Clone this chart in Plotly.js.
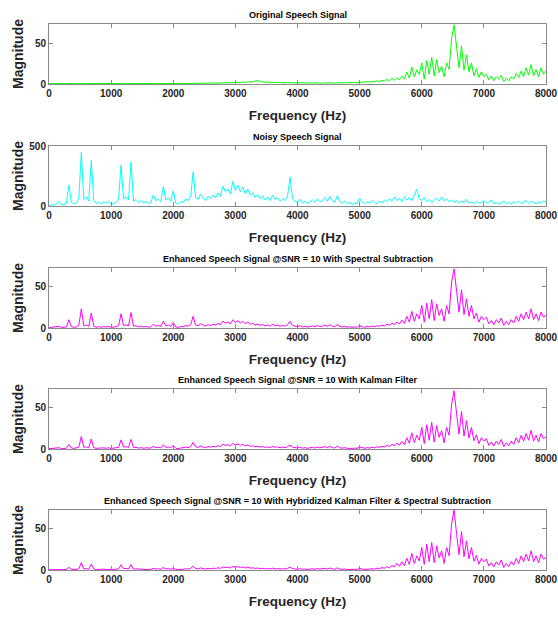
<!DOCTYPE html>
<html>
<head>
<meta charset="utf-8">
<script src="https://cdn.plot.ly/plotly-3.0.1.min.js"></script>
<style>html,body{margin:0;padding:0;background:#fff;}#chart{width:558px;height:619px;}</style>
</head>
<body>
<div id="chart"></div>
<script>
// Frequency bins (Hz)
const freqHz = [
0,40,80,120,160,200,240,280,320,360,400,440,480,520,560,600,640,680,720,760,800,840,880,920,960,
1000,1040,1080,1120,1160,1200,1240,1280,1320,1360,1400,1440,1480,1520,1560,1600,1640,1680,1720,1760,1800,1840,1880,1920,1960,
2000,2040,2080,2120,2160,2200,2240,2280,2320,2360,2400,2440,2480,2520,2560,2600,2640,2680,2720,2760,2800,2840,2880,2920,2960,
3000,3040,3080,3120,3160,3200,3240,3280,3320,3360,3400,3440,3480,3520,3560,3600,3640,3680,3720,3760,3800,3840,3880,3920,3960,
4000,4040,4080,4120,4160,4200,4240,4280,4320,4360,4400,4440,4480,4520,4560,4600,4640,4680,4720,4760,4800,4840,4880,4920,4960,
5000,5040,5080,5120,5160,5200,5240,5280,5320,5360,5400,5440,5480,5520,5560,5600,5640,5680,5720,5760,5800,5840,5880,5920,5960,
6000,6040,6080,6120,6160,6200,6240,6280,6320,6360,6400,6440,6480,6520,6560,6600,6640,6680,6720,6760,6800,6840,6880,6920,6960,
7000,7040,7080,7120,7160,7200,7240,7280,7320,7360,7400,7440,7480,7520,7560,7600,7640,7680,7720,7760,7800,7840,7880,7920,7960,
8000];

const originalMag = [
0.5,0.4,0.6,0.5,0.3,0.6,0.4,0.5,0.7,0.4,0.5,0.6,0.3,0.5,0.4,0.6,0.5,0.4,0.7,0.5,0.3,0.5,0.6,0.4,0.5,
0.4,0.6,0.5,0.3,0.5,0.7,0.4,0.5,0.6,0.4,0.5,0.3,0.6,0.5,0.4,0.7,0.5,0.6,0.4,0.5,0.6,0.5,0.4,0.7,0.5,
0.6,0.5,0.7,0.5,0.6,0.8,0.5,0.7,0.6,0.8,0.6,0.7,0.9,0.7,0.8,1.0,1.2,0.9,1.3,1.1,1.5,1.2,1.8,1.4,2.0,
1.6,2.2,1.8,2.5,2.0,2.8,2.2,3.0,3.8,4.2,3.1,2.4,2.0,2.6,1.8,2.2,1.6,2.0,1.5,1.8,1.4,1.9,1.6,2.1,1.5,
1.2,1.6,1.3,1.8,1.2,1.5,1.1,1.7,1.3,1.4,1.0,1.6,1.2,1.8,1.3,1.1,1.5,1.2,1.7,1.4,1.6,1.9,1.3,2.0,1.5,
1.8,2.4,2.0,2.9,2.3,3.2,2.6,3.8,3.0,4.5,3.4,5.6,4.0,6.8,4.6,7.5,5.2,9.8,6.0,14.5,7.4,20.8,8.6,17.5,11.8,
26,6,29,12,33,10,30,14,22,9,26,18,56,73,44,20,47,17,36,15,26,10,19,8,15,
9,12,5,10,4,9,6,11,3,7,4,9,6,13,8,16,9,20,11,24,10,18,9,20,12,
16];

const noisyMag = [
5,10,8,15,38,12,10,20,176,30,18,25,60,446,55,75,40,380,45,22,30,18,35,25,40,
15,20,30,55,340,60,75,50,368,40,55,30,45,25,38,20,30,92,45,60,35,162,50,70,40,
128,25,15,35,30,60,45,80,285,70,55,100,65,45,80,60,90,70,110,80,165,120,140,100,205,
130,175,120,160,100,140,90,110,70,95,60,85,50,75,45,90,55,70,40,60,45,80,240,60,40,
30,55,25,40,20,35,50,30,60,35,45,70,40,80,45,30,85,35,25,40,20,30,15,25,20,
65,30,20,35,25,45,30,20,40,25,50,35,60,40,75,45,65,35,80,50,70,45,90,140,60,
45,70,35,55,30,50,65,40,75,45,60,35,50,30,45,25,40,30,55,25,35,20,40,25,30,
45,25,35,50,20,30,15,25,40,20,30,15,35,25,40,20,35,45,25,40,30,20,35,25,40,
30];

const spectralSubMag = [
0.5,0.8,0.5,1.0,2.0,0.8,0.6,1.2,10,1.5,0.9,1.3,3.0,23,2.5,3.5,2.0,18,2.2,1.0,1.5,0.9,1.8,1.2,2.0,
0.8,1.0,1.5,2.8,17,3.0,3.8,2.5,18.5,2.0,2.8,1.5,2.2,1.2,1.9,1.0,1.5,4.6,2.2,3.0,1.8,8.0,2.5,3.5,2.0,
6.5,1.2,0.8,1.8,1.5,3.0,2.2,4.0,14,3.5,2.8,5.0,3.2,2.2,4.0,3.0,4.5,3.5,5.5,4.0,8.2,6.0,7.0,5.0,10,
6.5,8.8,6.0,8.0,5.0,7.0,4.5,5.5,3.5,4.8,3.0,4.2,2.5,3.8,2.2,4.5,2.8,3.5,2.0,3.0,2.2,4.0,8.0,3.0,2.0,
1.5,2.8,1.2,2.0,1.0,1.8,2.5,1.5,3.0,1.8,2.2,3.5,2.0,4.0,2.2,1.5,4.2,1.8,1.2,2.0,1.0,1.5,0.8,1.2,1.0,
3.2,1.5,1.0,1.8,1.2,2.2,1.5,2.8,2.0,3.5,2.5,4.5,3.2,5.8,4.0,7.2,4.8,9.5,5.5,14,7.0,20,8.0,17,11,
27,7,30,11,34,9,29,15,23,8,27,17,55,71,45,19,46,16,35,14,27,11,18,7,14,
10,13,5,9,4,10,6,12,3,8,4,10,6,14,8,17,10,19,11,23,10,17,9,19,13,
15];

const kalmanMag = [
0.4,0.6,0.4,0.8,1.5,0.6,0.5,0.9,5.5,1.2,0.7,1.0,2.2,15,2.0,2.6,1.5,12,1.6,0.8,1.2,0.7,1.4,0.9,1.5,
0.6,0.8,1.2,2.0,11,2.2,2.8,1.8,11.5,1.5,2.0,1.1,1.6,0.9,1.4,0.8,1.1,3.2,1.6,2.2,1.3,5.0,1.8,2.5,1.5,
4.2,0.9,0.6,1.3,1.1,2.2,1.6,2.9,8.0,2.5,2.0,3.5,2.3,1.6,2.9,2.2,3.2,2.5,4.0,2.9,5.8,4.3,5.0,3.6,6.8,
4.6,6.2,4.3,5.6,3.6,5.0,3.2,3.9,2.5,3.4,2.2,3.0,1.8,2.7,1.6,3.2,2.0,2.5,1.5,2.2,1.6,2.9,4.5,2.2,1.5,
1.2,2.2,1.0,1.6,0.8,1.4,2.0,1.2,2.4,1.4,1.8,2.8,1.6,3.2,1.8,1.2,3.4,1.4,1.0,1.6,0.8,1.2,0.7,1.0,0.8,
2.5,1.3,0.9,1.6,1.1,2.0,1.4,2.6,1.9,3.3,2.4,4.3,3.0,5.6,3.9,7.0,4.6,9.2,5.3,13.5,6.8,19.5,7.8,16.5,10.5,
26,6.5,29,10.5,32,8.5,28,14,22,7.5,26,16.5,53,70,43,18,45,15.5,34,13,26,10,17,6.5,13.5,
9.5,12.5,4.5,8.5,3.5,9.5,5.5,11.5,2.8,7.5,3.8,9.5,5.5,13.5,7.5,16.5,9.5,18.5,10.5,22.5,9.5,16.5,8.5,18.5,12.5,
14.5];

const hybridMag = [
0.3,0.5,0.3,0.6,1.0,0.5,0.4,0.7,3.2,0.9,0.5,0.8,1.4,8.8,1.3,1.7,1.0,7.0,1.1,0.6,0.9,0.5,1.0,0.7,1.0,
0.5,0.6,0.9,1.4,6.2,1.5,1.9,1.2,6.5,1.1,1.4,0.8,1.1,0.6,1.0,0.6,0.8,2.0,1.1,1.5,0.9,3.0,1.2,1.7,1.0,
2.5,0.6,0.5,0.9,0.8,1.5,1.1,2.0,4.5,1.7,1.4,2.4,1.6,1.1,2.0,1.5,2.2,1.7,2.7,2.0,3.8,2.9,3.4,2.5,4.4,
3.1,4.0,2.9,3.7,2.4,3.3,2.2,2.7,1.8,2.4,1.6,2.1,1.3,1.9,1.2,2.2,1.4,1.8,1.1,1.6,1.2,2.0,3.2,1.6,1.1,
0.9,1.6,0.8,1.2,0.6,1.0,1.5,0.9,1.8,1.1,1.4,2.1,1.2,2.4,1.4,0.9,2.6,1.1,0.8,1.2,0.6,0.9,0.5,0.8,0.6,
2.0,1.0,0.7,1.3,0.9,1.6,1.1,2.2,1.6,2.9,2.1,4.0,2.7,5.4,3.7,8.0,4.4,9.8,5.1,14,6.6,20,7.6,17,10.8,
27,6.8,31,10,33,8.8,29,14.5,23,7.8,27,17,55,72,44,18.5,46,16,35,13.5,27,10.5,17.5,7,14,
9.8,13,4.8,8.8,3.8,9.8,5.8,12,3,7.8,4,10,5.8,14,7.8,17,9.8,19,10.8,23,9.8,17,8.8,19,13,
15];

const panelTitles = [
  'Original Speech Signal',
  'Noisy Speech Signal',
  'Enhanced Speech Signal @SNR = 10 With Spectral Subtraction',
  'Enhanced Speech Signal @SNR = 10 With Kalman Filter',
  'Enhanced Speech Signal @SNR = 10 With Hybridized Kalman Filter & Spectral Subtraction'
];
const panelSeries = [originalMag, noisyMag, spectralSubMag, kalmanMag, hybridMag];
const panelColors = ['#00ff00', '#00ffff', '#ff00ff', '#ff00ff', '#ff00ff'];
const panelYMax = [74, 500, 72, 72, 72];
const panelYTicks = [[0, 50], [0, 500], [0, 50], [0, 50], [0, 50]];
const xTickVals = [0,1000,2000,3000,4000,5000,6000,7000,8000];
const xTickText = ['0','1000','2000','3000','4000','5000','6000','7000','8000'];

const W = 558, H = 619;
const plotLeft = 49, plotRight = 546;
const panelTopPx = [24, 146, 268, 389, 510];
const panelHeightPx = 60;

const sans = '"Liberation Sans", Arial, sans-serif';

const traces = [];
const layout = {
  width: W, height: H,
  margin: {l: 0, r: 0, t: 0, b: 0},
  paper_bgcolor: '#ffffff',
  plot_bgcolor: '#ffffff',
  showlegend: false,
  annotations: []
};

panelSeries.forEach((vals, i) => {
  const n = i + 1;
  const sfx = (n === 1 ? '' : String(n));
  traces.push({
    x: freqHz, y: vals, type: 'scatter', mode: 'lines',
    line: {color: panelColors[i], width: 1},
    xaxis: 'x' + sfx, yaxis: 'y' + sfx,
    hoverinfo: 'skip'
  });
  const top = panelTopPx[i], bot = top + panelHeightPx;
  const axCommon = {
    showline: true, linecolor: '#8a8a8a', linewidth: 1, mirror: 'ticks',
    ticks: 'inside', ticklen: 4, tickcolor: '#8a8a8a', tickwidth: 1,
    showgrid: false, zeroline: false, fixedrange: true,
    ticklabeloverflow: 'allow',
    tickfont: {family: sans, size: 10, color: '#262626', weight: 'bold'}
  };
  layout['xaxis' + sfx] = Object.assign({}, axCommon, {
    domain: [plotLeft / W, plotRight / W],
    anchor: 'y' + sfx,
    range: [0, 8000], tickmode: 'array', tickvals: xTickVals, ticktext: xTickText,
    title: {text: 'Frequency (Hz)', standoff: 12,
            font: {family: sans, size: 13.5, color: '#262626', weight: 'bold'}}
  });
  layout['yaxis' + sfx] = Object.assign({}, axCommon, {
    domain: [1 - bot / H, 1 - top / H],
    anchor: 'x' + sfx,
    range: [0, panelYMax[i]], tickmode: 'array', tickvals: panelYTicks[i],
    ticktext: panelYTicks[i].map(String),
    title: {text: ''}
  });
  layout.annotations.push({
    text: panelTitles[i], xref: 'paper', yref: 'paper',
    x: (plotLeft + plotRight) / 2 / W, y: 1 - (top - 9) / H,
    xanchor: 'center', yanchor: 'middle', showarrow: false,
    font: {family: sans, size: 9, color: '#000000', weight: 'bold'}
  });
  layout.annotations.push({
    text: 'Magnitude', xref: 'paper', yref: 'paper', textangle: -90,
    x: 18 / W, y: 1 - (top + panelHeightPx / 2) / H,
    xanchor: 'center', yanchor: 'middle', showarrow: false,
    font: {family: sans, size: 14, color: '#262626', weight: 'bold'}
  });
});

Plotly.newPlot('chart', traces, layout, {staticPlot: true, displayModeBar: false});
</script>
</body>
</html>
